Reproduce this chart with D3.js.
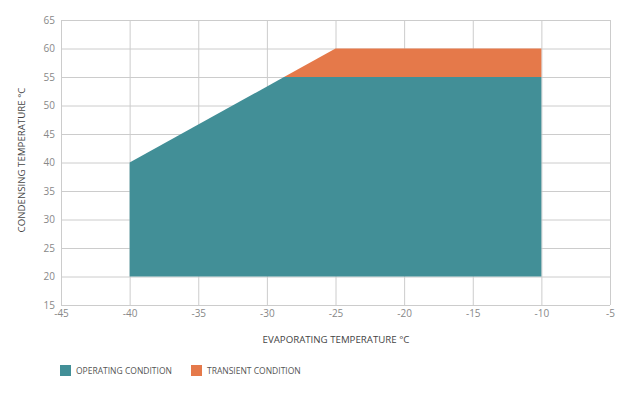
<!DOCTYPE html>
<html>
<head>
<meta charset="utf-8">
<script src="https://d3js.org/d3.v7.min.js"></script>
<style>
  body { margin: 0; background: #fff; }
  svg { display: block; font-family: "Open Sans", sans-serif; }
</style>
</head>
<body>
<svg></svg>
<script>
// envelope corners (evaporating, condensing) in °C
const operatingEvap = [-40, -40, -28.75, -10, -10];
const operatingCond = [20, 40, 55, 55, 20];
const transientEvap = [-28.75, -25, -10, -10];
const transientCond = [55, 60, 60, 55];

const xTicks = [-45, -40, -35, -30, -25, -20, -15, -10, -5];
const yTicks = [15, 20, 25, 30, 35, 40, 45, 50, 55, 60, 65];

const seriesNames = ["OPERATING CONDITION", "TRANSIENT CONDITION"];
const seriesColors = ["#428f97", "#e5794a"];

const width = 629;
const height = 405;
const margin = { top: 20, right: 19, bottom: 100, left: 61 };

const svg = d3.select("svg").attr("width", width).attr("height", height);

const xScale = d3.scaleLinear()
  .domain([-45, -5])
  .range([margin.left, width - margin.right]);

const yScale = d3.scaleLinear()
  .domain([15, 65])
  .range([height - margin.bottom, margin.top]);

// grid
svg.append("g")
  .selectAll("line")
  .data(xTicks)
  .enter()
  .append("line")
  .attr("x1", d => xScale(d) + 0.5)
  .attr("x2", d => xScale(d) + 0.5)
  .attr("y1", yScale(15))
  .attr("y2", yScale(65))
  .attr("stroke", "#cccccc")
  .attr("stroke-width", 1);

svg.append("g")
  .selectAll("line")
  .data(yTicks)
  .enter()
  .append("line")
  .attr("x1", xScale(-45))
  .attr("x2", xScale(-5))
  .attr("y1", d => yScale(d) + 0.5)
  .attr("y2", d => yScale(d) + 0.5)
  .attr("stroke", "#cccccc")
  .attr("stroke-width", 1);

// areas
const polyLine = d3.line().x(d => xScale(d[0])).y(d => yScale(d[1]));

svg.append("path")
  .datum(d3.zip(operatingEvap, operatingCond))
  .attr("d", d => polyLine(d) + "Z")
  .attr("fill", seriesColors[0]);

svg.append("path")
  .datum(d3.zip(transientEvap, transientCond))
  .attr("d", d => polyLine(d) + "Z")
  .attr("fill", seriesColors[1]);

// axes (plain hyphen for negatives, like the original)
const xAxis = d3.axisBottom(xScale).tickValues(xTicks).tickSize(0).tickPadding(5)
  .tickFormat(d => String(d));
const xg = svg.append("g")
  .attr("transform", "translate(0," + yScale(15) + ")")
  .call(xAxis);
xg.select(".domain").remove();
xg.selectAll("text")
  .attr("fill", "#888888")
  .style("font-size", "10px")
  .style("font-family", "'Open Sans', sans-serif");

const yAxis = d3.axisLeft(yScale).tickValues(yTicks).tickSize(0).tickPadding(6)
  .tickFormat(d => String(d));
const yg = svg.append("g")
  .attr("transform", "translate(" + xScale(-45) + ",0)")
  .call(yAxis);
yg.select(".domain").remove();
yg.selectAll("text")
  .attr("fill", "#888888")
  .style("font-size", "10px")
  .style("font-family", "'Open Sans', sans-serif");

// axis titles
svg.append("text")
  .attr("x", 336)
  .attr("y", 343)
  .attr("text-anchor", "middle")
  .attr("fill", "#444444")
  .style("font-size", "9.7px")
  .text("EVAPORATING TEMPERATURE °C");

svg.append("text")
  .attr("transform", "translate(25," + 160 + ") rotate(-90)")
  .attr("text-anchor", "middle")
  .attr("fill", "#444444")
  .style("font-size", "9.7px")
  .text("CONDENSING TEMPERATURE °C");

// legend
const legendX = [60, 191];
const legend = svg.append("g")
  .selectAll("g")
  .data(seriesNames)
  .enter()
  .append("g")
  .attr("transform", (d, i) => "translate(" + legendX[i] + ",365)");

legend.append("rect")
  .attr("width", 11)
  .attr("height", 11)
  .attr("fill", (d, i) => seriesColors[i]);

legend.append("text")
  .attr("x", 16)
  .attr("y", 9)
  .attr("fill", "#555555")
  .style("font-size", "8.5px")
  .text(d => d);
</script>
</body>
</html>
